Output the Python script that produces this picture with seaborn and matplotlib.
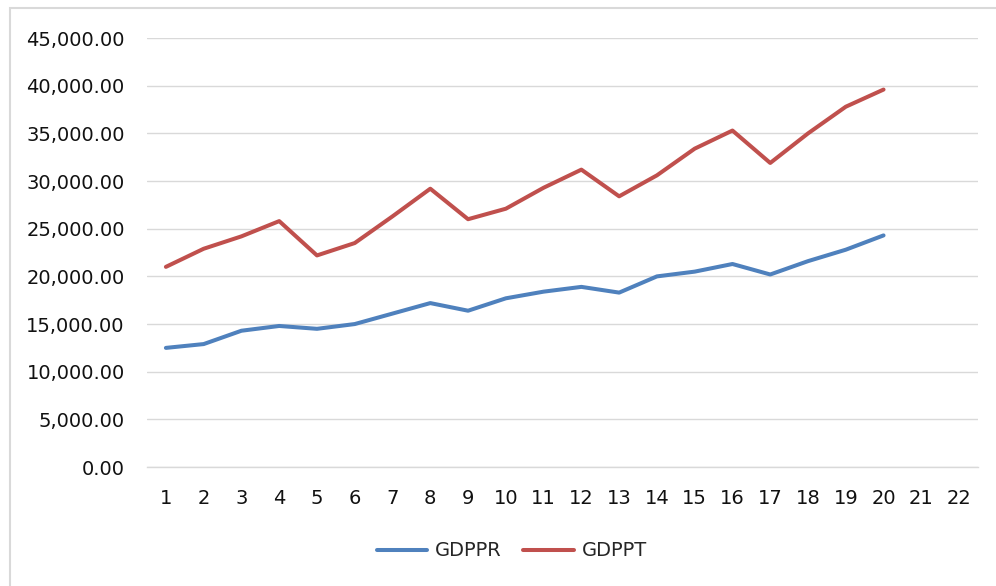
import numpy as np
import pandas as pd
import seaborn as sns
import matplotlib.pyplot as plt
from matplotlib.patches import Rectangle
from matplotlib.ticker import FuncFormatter

# data
periods = list(range(1, 21))
gdppr = [12500, 12900, 14300, 14800, 14500, 15000, 16100, 17200, 16400, 17700,
         18400, 18900, 18300, 20000, 20500, 21300, 20200, 21600, 22800, 24300]
gdppt = [21000, 22900, 24200, 25800, 22200, 23500, 26300, 29200, 26000, 27100,
         29300, 31200, 28400, 30600, 33400, 35300, 31900, 35000, 37800, 39600]
x_ticks = list(range(1, 23))
series_names = ["GDPPR", "GDPPT"]
colors = ["#4F81BD", "#C0504D"]

df = pd.DataFrame({
    "period": periods * 2,
    "value": gdppr + gdppt,
    "series": [series_names[0]] * len(periods) + [series_names[1]] * len(periods),
})

sns.set_theme(style="white")
plt.rcParams['font.family'] = ['DejaVu Sans']

fig = plt.figure(figsize=(9.96, 5.86), dpi=100)
ax = fig.add_axes([0.1476, 0.203, 0.8343, 0.732])

sns.lineplot(data=df, x="period", y="value", hue="series",
             palette=colors, linewidth=2.9, ax=ax, legend=True)

ax.set_xlim(0.5, 22.5)
ax.set_ylim(0, 45000)
ax.set_yticks(np.arange(0, 45001, 5000))
ax.set_xticks(x_ticks)
ax.yaxis.set_major_formatter(FuncFormatter(lambda v, p: f"{v:,.2f}"))
ax.grid(axis="y", color="#D9D9D9", linewidth=1)
ax.set_axisbelow(True)
ax.tick_params(axis="y", length=0, pad=16, labelsize=14, labelcolor="#111111")
ax.tick_params(axis="x", length=0, pad=16, labelsize=14, labelcolor="#111111")
ax.set_xlabel("")
ax.set_ylabel("")
for side in ["top", "right", "left"]:
    ax.spines[side].set_visible(False)
ax.spines["bottom"].set_color("#D9D9D9")
ax.spines["bottom"].set_linewidth(1)

handles, labels = ax.get_legend_handles_labels()
ax.legend_.remove()
fig.legend(handles, labels, loc="center", bbox_to_anchor=(0.514, 0.06),
           ncol=2, frameon=False, fontsize=14, handlelength=2.6,
           handletextpad=0.4, columnspacing=1.1)

# chart area border
fig.patches.append(Rectangle((10 / 996, -0.1), 1.2, 1 - 8 / 586 + 0.1,
                             transform=fig.transFigure, fill=False,
                             edgecolor="#D9D9D9", linewidth=1.5))

fig.savefig("out.png", dpi=100)
